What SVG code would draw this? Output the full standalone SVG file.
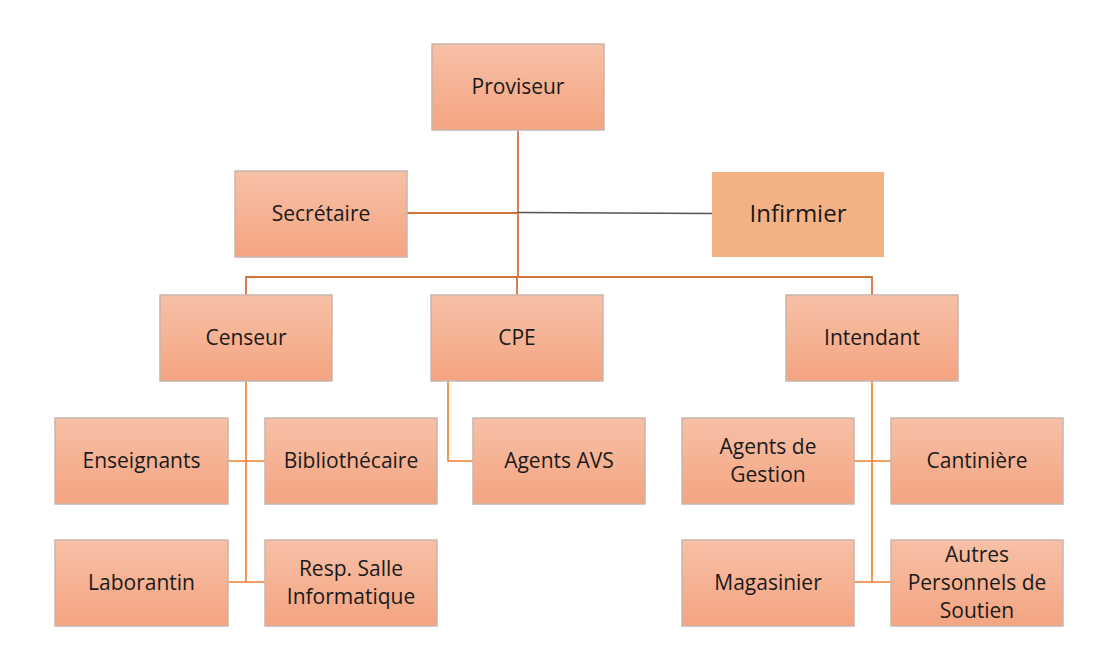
<svg xmlns="http://www.w3.org/2000/svg" width="1110" height="663" viewBox="0 0 1110 663">
<defs>
<linearGradient id="g" x1="0" y1="0" x2="0" y2="1">
<stop offset="0" stop-color="#F7C0A6"/>
<stop offset="1" stop-color="#F4A481"/>
</linearGradient>
</defs>
<style>
.n{fill:url(#g);stroke:#C9B5AC;stroke-width:1.5}
.t{font-family:"Open Sans","Noto Sans",sans-serif;font-size:21px;fill:#1a1a1a;text-anchor:middle}
.c{fill:none;stroke:#D2733E;stroke-width:1.8}
.c2{fill:none;stroke:#ED7D31;stroke-width:1.6}
</style>
<rect width="1110" height="663" fill="#fff"/>
<g id="connectors">
<path class="c" d="M518 130V277"/>
<path class="c" d="M407 213H518"/>
<path d="M518 212.5L712 213.5" stroke="#555" stroke-width="1.3" fill="none"/>
<path class="c" d="M246 295V277H872V295M517 277V295"/>
<path class="c2" d="M246 381V582M228 461H265M228 582H265"/>
<path class="c2" d="M448 381V461H473"/>
<path class="c2" d="M872 381V582M854 461H891M854 582H891"/>
</g>
<g id="proviseur"><rect class="n" x="432" y="44" width="172" height="86"/><text class="t" x="518" y="94">Proviseur</text></g>
<g id="secretaire"><rect class="n" x="235" y="171" width="172" height="86"/><text class="t" x="321" y="221">Secrétaire</text></g>
<g id="infirmier"><rect x="712" y="172" width="172" height="85" fill="#F4B183"/><text class="t" x="798" y="222" style="font-size:24px">Infirmier</text></g>
<g id="censeur"><rect class="n" x="160" y="295" width="172" height="86"/><text class="t" x="246" y="345">Censeur</text></g>
<g id="cpe"><rect class="n" x="431" y="295" width="172" height="86"/><text class="t" x="517" y="345">CPE</text></g>
<g id="intendant"><rect class="n" x="786" y="295" width="172" height="86"/><text class="t" x="872" y="345">Intendant</text></g>
<g id="enseignants"><rect class="n" x="55" y="418" width="173" height="86"/><text class="t" x="141.5" y="468">Enseignants</text></g>
<g id="bibliothecaire"><rect class="n" x="265" y="418" width="172" height="86"/><text class="t" x="351" y="468">Bibliothécaire</text></g>
<g id="agents-avs"><rect class="n" x="473" y="418" width="172" height="86"/><text class="t" x="559" y="468">Agents AVS</text></g>
<g id="agents-gestion"><rect class="n" x="682" y="418" width="172" height="86"/><text class="t" x="768" y="454">Agents de</text><text class="t" x="768" y="482">Gestion</text></g>
<g id="cantiniere"><rect class="n" x="891" y="418" width="172" height="86"/><text class="t" x="977" y="468">Cantinière</text></g>
<g id="laborantin"><rect class="n" x="55" y="540" width="173" height="86"/><text class="t" x="141.5" y="590">Laborantin</text></g>
<g id="resp-salle"><rect class="n" x="265" y="540" width="172" height="86"/><text class="t" x="351" y="576">Resp. Salle</text><text class="t" x="351" y="604">Informatique</text></g>
<g id="magasinier"><rect class="n" x="682" y="540" width="172" height="86"/><text class="t" x="768" y="590">Magasinier</text></g>
<g id="autres"><rect class="n" x="891" y="540" width="172" height="86"/><text class="t" x="977" y="562">Autres</text><text class="t" x="977" y="590">Personnels de</text><text class="t" x="977" y="618">Soutien</text></g>
</svg>
